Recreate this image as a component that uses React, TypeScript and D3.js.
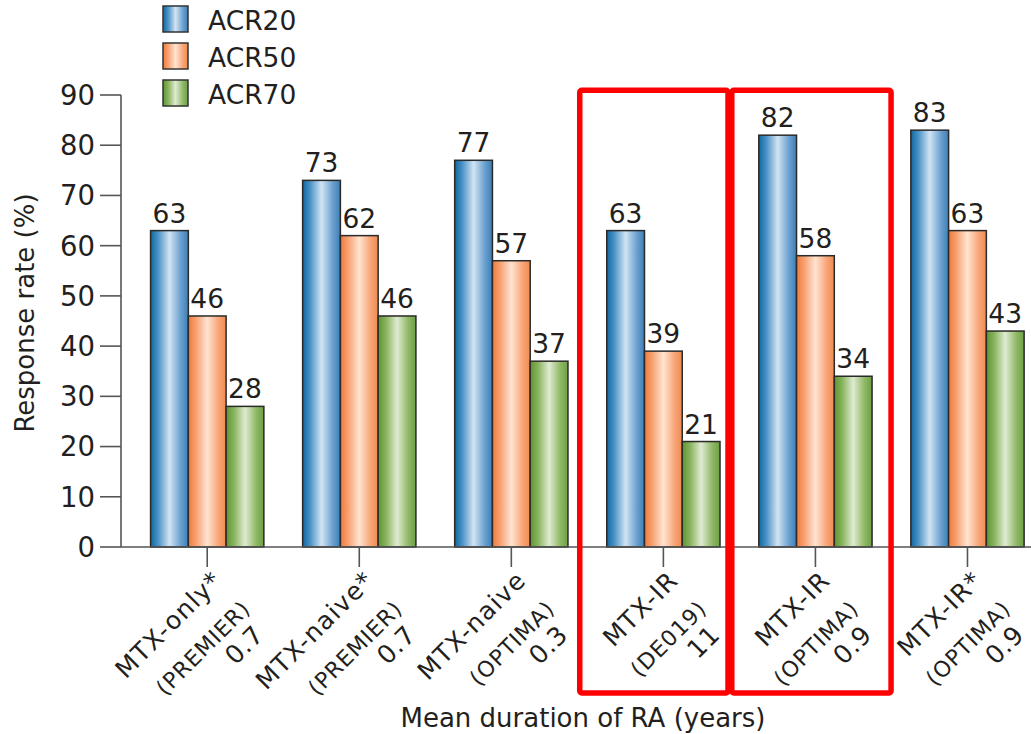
import React from 'react';
import * as d3 from 'd3';

// Response rates by patient population (percent)
const groupNames = ['MTX-only*', 'MTX-naive*', 'MTX-naive', 'MTX-IR', 'MTX-IR', 'MTX-IR*'];
const trialNames = ['(PREMIER)', '(PREMIER)', '(OPTIMA)', '(DE019)', '(OPTIMA)', '(OPTIMA)'];
const durations = ['0.7', '0.7', '0.3', '11', '0.9', '0.9'];
const seriesNames = ['ACR20', 'ACR50', 'ACR70'];
const acr20 = [63, 73, 77, 63, 82, 83];
const acr50 = [46, 62, 57, 39, 58, 63];
const acr70 = [28, 46, 37, 21, 34, 43];
const yTicks = [0, 10, 20, 30, 40, 50, 60, 70, 80, 90];
const highlightedGroups = [3, 4];

const W = 1031;
const H = 734;
const FONT = '"DejaVu Sans", Verdana, sans-serif';
const INK = '#231f20';
const AXIS = '#555555';

// gradient stops per series: dark edges, pale highlight near the middle
const gradients = [
  ['#12679f', '#4a92c6', '#d2e4f3', '#6aa0cf', '#3c7fb6'],
  ['#ef7a3c', '#f7a070', '#ffe4d2', '#f8a577', '#f08a50'],
  ['#5f9433', '#86b25a', '#dfebd2', '#8fb866', '#6e9f45'],
];

export default function App() {
  const series = [acr20, acr50, acr70];
  const cats = groupNames.map((_, i) => String(i));

  const y = d3.scaleLinear().domain([0, 90]).range([547, 95]);
  const x = d3
    .scaleBand<string>()
    .domain(cats)
    .range([131.2, 1043.5])
    .paddingInner(0.255)
    .paddingOuter(0.1275);
  const xs = d3.scaleBand<string>().domain(seriesNames).range([0, x.bandwidth()]);

  const axisLeft = 121;
  const axisY = y(0);

  const boxPads = [
    [27, 8],
    [27, 19],
  ];

  return (
    <svg
      width={W}
      height={H}
      style={{ position: 'absolute', left: 0, top: 0, background: '#fff' }}
      fontFamily={FONT}
    >
      <defs>
        {gradients.map((g, k) => (
          <linearGradient key={k} id={`grad${k}`} x1="0" x2="1" y1="0" y2="0">
            <stop offset="0%" stopColor={g[0]} />
            <stop offset="20%" stopColor={g[1]} />
            <stop offset="50%" stopColor={g[2]} />
            <stop offset="80%" stopColor={g[3]} />
            <stop offset="100%" stopColor={g[4]} />
          </linearGradient>
        ))}
      </defs>

      {/* legend */}
      {seriesNames.map((name, k) => (
        <g key={name} transform={`translate(163, ${6 + k * 37})`}>
          <rect width={25} height={26} fill={`url(#grad${k})`} stroke="#333" strokeWidth={1.5} />
          <text x={45} y={23.5} fontSize={26.5} fill={INK}>
            {name}
          </text>
        </g>
      ))}

      {/* y axis */}
      <line x1={axisLeft} x2={axisLeft} y1={y(90)} y2={axisY} stroke={AXIS} strokeWidth={1.6} />
      {yTicks.map((t) => (
        <g key={t}>
          <line x1={axisLeft - 21} x2={axisLeft} y1={y(t)} y2={y(t)} stroke={AXIS} strokeWidth={1.6} />
          <text
            x={axisLeft - 26}
            y={y(t)}
            dy="0.36em"
            textAnchor="end"
            fontSize={27.5}
            fill={INK}
          >
            {t}
          </text>
        </g>
      ))}
      <text
        transform={`translate(34, ${(y(0) + y(90)) / 2 - 8}) rotate(-90)`}
        textAnchor="middle"
        fontSize={26}
        fill={INK}
      >
        Response rate (%)
      </text>

      {/* bars and value labels */}
      {cats.map((c, i) => (
        <g key={c} transform={`translate(${x(c)}, 0)`}>
          {series.map((vals, k) => {
            const bx = xs(seriesNames[k]) as number;
            const bw = xs.bandwidth();
            return (
              <g key={k}>
                <rect
                  x={bx}
                  y={y(vals[i])}
                  width={bw}
                  height={axisY - y(vals[i])}
                  fill={`url(#grad${k})`}
                  stroke="#2a2a2a"
                  strokeWidth={1.5}
                />
                <text
                  x={bx + bw / 2}
                  y={y(vals[i]) - 8}
                  textAnchor="middle"
                  fontSize={26.5}
                  fill={INK}
                >
                  {vals[i]}
                </text>
              </g>
            );
          })}
        </g>
      ))}

      {/* x axis */}
      <line x1={axisLeft} x2={W} y1={axisY} y2={axisY} stroke={AXIS} strokeWidth={1.6} />
      {cats.map((c, i) => {
        const cx = (x(c) as number) + x.bandwidth() / 2;
        return (
          <g key={c}>
            <line x1={cx} x2={cx} y1={axisY} y2={axisY + 20} stroke={AXIS} strokeWidth={1.6} />
            <g transform={`translate(${cx}, ${axisY + 20}) rotate(-45)`} fill={INK} textAnchor="end">
              <text x={1} y={22} fontSize={25} letterSpacing={1.2}>
                {groupNames[i]}
              </text>
              <text x={1} y={62} fontSize={22} letterSpacing={0.9}>
                {trialNames[i]}
              </text>
              <text x={-8} y={90} fontSize={25.5} letterSpacing={0.5}>
                {durations[i]}
              </text>
            </g>
          </g>
        );
      })}
      <text x={583} y={727} textAnchor="middle" fontSize={26} fill={INK}>
        Mean duration of RA (years)
      </text>

      {/* highlighted comparison groups */}
      {highlightedGroups.map((gi, k) => {
        const bx = x(cats[gi]) as number;
        const left = bx - boxPads[k][0];
        const right = bx + x.bandwidth() + boxPads[k][1];
        return (
          <rect
            key={gi}
            x={left}
            y={90.3}
            width={right - left}
            height={693 - 90.3}
            fill="none"
            stroke="#ff0000"
            strokeWidth={5.5}
            rx={2}
          />
        );
      })}
    </svg>
  );
}
